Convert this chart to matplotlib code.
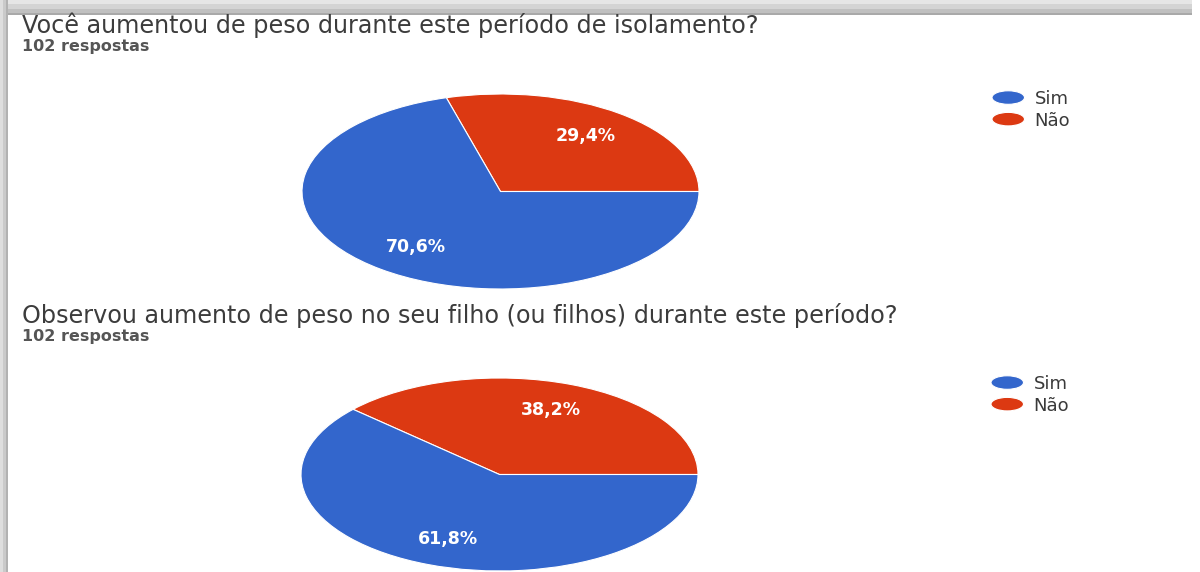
import matplotlib
matplotlib.use("Agg")
import matplotlib.pyplot as plt
from matplotlib.patches import Rectangle, Ellipse
from matplotlib.legend_handler import HandlerPatch

# ---- data ----
titles = ["Você aumentou de peso durante este período de isolamento?",
          "Observou aumento de peso no seu filho (ou filhos) durante este período?"]
subtitle = "102 respostas"
labels = ["Não", "Sim"]          # drawing order (counter-clockwise from 3 o'clock)
legend_order = ["Sim", "Não"]
values_q1 = [29.4, 70.6]
values_q2 = [38.2, 61.8]
colors = {"Sim": "#3366CC", "Não": "#DC3912"}

W, H = 1200, 572
fig = plt.figure(figsize=(W / 100, H / 100), dpi=100)
fig.patch.set_facecolor("white")

bg = fig.add_axes([0, 0, 1, 1])
bg.set_xlim(0, W)
bg.set_ylim(H, 0)
bg.axis("off")

# frame / shadow edges
for (y0, h, c) in [(0, 4, "#e6e6e6"), (4, 5, "#d4d4d4"), (9, 4, "#c0c0c0"), (13, 2, "#a9a9a9")]:
    bg.add_patch(Rectangle((0, y0), W - 8, h, color=c, lw=0))
for (x0, w, c) in [(0, 3, "#dedede"), (3, 3, "#cacaca"), (6, 2, "#b2b2b2")]:
    bg.add_patch(Rectangle((x0, 0), w, H, color=c, lw=0))

title_font = "DejaVu Sans"
bg.text(22, 32.5, titles[0], fontsize=17.2, color="#3c3c3c", family=title_font, va="baseline")
bg.text(22, 51.5, subtitle, fontsize=11.5, color="#555555", family=title_font,
        fontweight="bold", va="baseline")
bg.text(22, 322.5, titles[1], fontsize=17.2, color="#3c3c3c", family=title_font, va="baseline")
bg.text(22, 341.5, subtitle, fontsize=11.5, color="#555555", family=title_font,
        fontweight="bold", va="baseline")


class HandlerEllipse(HandlerPatch):
    def create_artists(self, legend, orig_handle, xdescent, ydescent, width, height, fontsize, trans):
        center = 0.5 * width - 0.5 * xdescent, 0.5 * height - 0.5 * ydescent
        p = Ellipse(xy=center, width=width, height=height + ydescent)
        self.update_prop(p, orig_handle, legend)
        p.set_transform(trans)
        return [p]


def draw_pie(box, values, pct_r, legend_xy):
    l, t, r, b = box
    ax = fig.add_axes([l / W, (H - b) / H, (r - l) / W, (b - t) / H])
    wedges, texts, autotexts = ax.pie(
        values, colors=[colors[k] for k in labels], startangle=0, counterclock=True,
        autopct=lambda p: f"{p:.1f}%".replace(".", ","), pctdistance=pct_r,
        wedgeprops=dict(edgecolor="white", linewidth=0.8),
        textprops=dict(color="white", fontsize=12.5, family="DejaVu Sans", fontweight="bold"))
    ax.set_aspect("auto")
    ax.set_xlim(-1, 1)
    ax.set_ylim(-1, 1)
    ax.axis("off")
    handles = [wedges[labels.index(k)] for k in legend_order]
    ax.legend(handles, legend_order, handler_map={type(wedges[0]): HandlerEllipse()},
              loc="upper left", bbox_to_anchor=(legend_xy[0] / W, 1 - legend_xy[1] / H),
              bbox_transform=fig.transFigure, frameon=False,
              prop=dict(size=13, family="DejaVu Sans"),
              handlelength=1.8, handleheight=0.75, handletextpad=0.55, labelspacing=0.2,
              borderpad=0, borderaxespad=0, labelcolor="#3a3a3a")
    return ax


draw_pie((302, 94, 699, 289), values_q1, 0.71, (992, 90))
draw_pie((301, 378, 698, 571), values_q2, 0.72, (991, 375))

fig.savefig("out.png", dpi=100, facecolor="white")
